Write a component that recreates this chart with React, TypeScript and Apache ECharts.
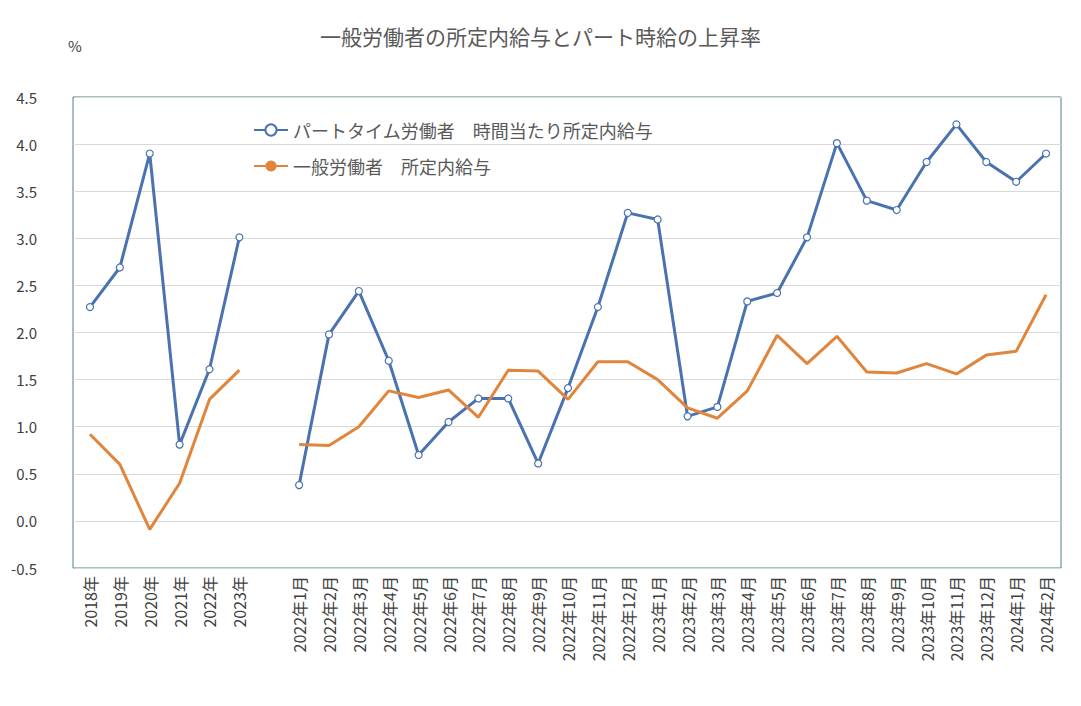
import React, { useEffect, useRef } from "react";
import * as echarts from "echarts";

const categories = [
  "2018年","2019年","2020年","2021年","2022年","2023年","",
  "2022年1月","2022年2月","2022年3月","2022年4月","2022年5月","2022年6月","2022年7月","2022年8月","2022年9月","2022年10月","2022年11月","2022年12月",
  "2023年1月","2023年2月","2023年3月","2023年4月","2023年5月","2023年6月","2023年7月","2023年8月","2023年9月","2023年10月","2023年11月","2023年12月",
  "2024年1月","2024年2月",
];
const partTime = [2.27,2.69,3.9,0.81,1.61,3.01,null,
  0.38,1.98,2.44,1.70,0.70,1.05,1.30,1.30,0.61,1.41,2.27,3.27,3.20,1.11,1.21,2.33,2.42,3.01,4.01,3.40,3.30,3.81,4.21,3.81,3.60,3.90];
const general = [0.92,0.60,-0.09,0.40,1.29,1.60,null,
  0.81,0.80,1.00,1.38,1.31,1.39,1.10,1.60,1.59,1.29,1.69,1.69,1.50,1.20,1.09,1.38,1.97,1.67,1.96,1.58,1.57,1.67,1.56,1.76,1.80,2.40];

export default function App() {
  const ref = useRef<HTMLDivElement>(null);
  useEffect(() => {
    const chart = echarts.init(ref.current!, null, { renderer: "svg" });
    const font = "'Noto Sans CJK JP', sans-serif";
    chart.setOption({
      animation: false,
      textStyle: { fontFamily: font },
      title: { text: "一般労働者の所定内給与とパート時給の上昇率", left: "center", top: 12,
        textStyle: { fontSize: 21, fontWeight: "normal", color: "#595959", fontFamily: font } },
      graphic: [{ type: "text", left: 60, top: 30, style: { text: "%", fontSize: 15, fill: "#404040", fontFamily: font } },
        { type: "rect", shape: { x: 65, y: 89, width: 988, height: 471 }, style: { fill: "none", stroke: "#4f7f8a", lineWidth: 1 } }],
      legend: { orient: "vertical", left: 240, top: 108, itemGap: 18, itemWidth: 34,
        textStyle: { fontSize: 18, color: "#595959", fontFamily: font },
        data: ["パートタイム労働者　時間当たり所定内給与", "一般労働者　所定内給与"] },
      grid: { left: 65, right: 12, top: 89, bottom: 130 },
      xAxis: { type: "category", data: categories, boundaryGap: true,
        axisLine: { show: false }, axisTick: { show: false },
        axisLabel: { rotate: 90, interval: 0, fontSize: 16, color: "#404040", margin: 8 } },
      yAxis: { type: "value", min: -0.5, max: 4.5, interval: 0.5,
        axisLabel: { formatter: (v: number) => v.toFixed(1), fontSize: 15, color: "#404040", margin: 38 },
        splitLine: { lineStyle: { color: "#d9d9d9" } } },
      series: [
        { name: "パートタイム労働者　時間当たり所定内給与", type: "line", data: partTime,
          lineStyle: { width: 3, color: "#4a72b0" }, symbol: "circle", symbolSize: 7,
          itemStyle: { color: "#fff", borderColor: "#4a72b0", borderWidth: 1.2 }, connectNulls: false },
        { name: "一般労働者　所定内給与", type: "line", data: general,
          lineStyle: { width: 3, color: "#e0853b" }, itemStyle: { color: "#e0853b" },
          showSymbol: false, symbol: "none", connectNulls: false },
      ],
    });
    return () => chart.dispose();
  }, []);
  return <div ref={ref} style={{ width: 1065, height: 690 }} />;
}
